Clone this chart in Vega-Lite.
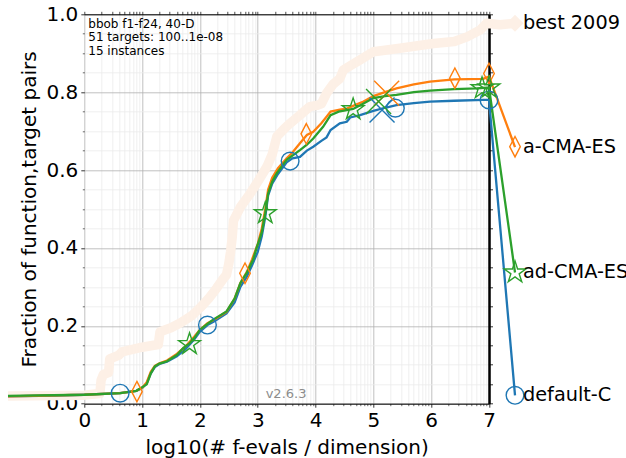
{
  "$schema": "https://vega.github.io/schema/vega-lite/v6.json",
  "width": 404.7,
  "height": 389.4,
  "autosize": {"type": "none"},
  "padding": {"left": 84.3, "top": 14.3, "right": 137, "bottom": 54.3},
  "background": "white",
  "config": {"view": {"stroke": null}, "font": "DejaVu Sans"},
  "datasets": {
    "lines": [
      {"alg":"best 2009","x":-1.32,"y":0.02},{"alg":"best 2009","x":0.0,"y":0.022},{"alg":"best 2009","x":0.27,"y":0.026},{"alg":"best 2009","x":0.29,"y":0.06},{"alg":"best 2009","x":0.33,"y":0.075},{"alg":"best 2009","x":0.42,"y":0.08},{"alg":"best 2009","x":0.44,"y":0.115},{"alg":"best 2009","x":0.6,"y":0.125},{"alg":"best 2009","x":0.65,"y":0.133},{"alg":"best 2009","x":1.0,"y":0.145},{"alg":"best 2009","x":1.28,"y":0.152},{"alg":"best 2009","x":1.31,"y":0.185},{"alg":"best 2009","x":1.5,"y":0.195},{"alg":"best 2009","x":1.66,"y":0.207},{"alg":"best 2009","x":1.85,"y":0.225},{"alg":"best 2009","x":2.0,"y":0.246},{"alg":"best 2009","x":2.15,"y":0.27},{"alg":"best 2009","x":2.29,"y":0.297},{"alg":"best 2009","x":2.4,"y":0.32},{"alg":"best 2009","x":2.46,"y":0.331},{"alg":"best 2009","x":2.5,"y":0.36},{"alg":"best 2009","x":2.53,"y":0.39},{"alg":"best 2009","x":2.56,"y":0.43},{"alg":"best 2009","x":2.58,"y":0.47},{"alg":"best 2009","x":2.7,"y":0.505},{"alg":"best 2009","x":2.87,"y":0.54},{"alg":"best 2009","x":3.0,"y":0.57},{"alg":"best 2009","x":3.16,"y":0.609},{"alg":"best 2009","x":3.25,"y":0.64},{"alg":"best 2009","x":3.33,"y":0.686},{"alg":"best 2009","x":3.45,"y":0.705},{"alg":"best 2009","x":3.56,"y":0.72},{"alg":"best 2009","x":3.73,"y":0.741},{"alg":"best 2009","x":3.9,"y":0.763},{"alg":"best 2009","x":4.02,"y":0.766},{"alg":"best 2009","x":4.1,"y":0.77},{"alg":"best 2009","x":4.19,"y":0.797},{"alg":"best 2009","x":4.3,"y":0.82},{"alg":"best 2009","x":4.42,"y":0.835},{"alg":"best 2009","x":4.48,"y":0.857},{"alg":"best 2009","x":4.6,"y":0.868},{"alg":"best 2009","x":4.77,"y":0.883},{"alg":"best 2009","x":5.0,"y":0.904},{"alg":"best 2009","x":5.46,"y":0.913},{"alg":"best 2009","x":6.04,"y":0.925},{"alg":"best 2009","x":6.4,"y":0.93},{"alg":"best 2009","x":6.62,"y":0.942},{"alg":"best 2009","x":6.85,"y":0.96},{"alg":"best 2009","x":6.96,"y":0.977},{"alg":"best 2009","x":7.19,"y":0.973},{"alg":"best 2009","x":7.45,"y":0.977},

      {"alg":"default-C","x":-1.32,"y":0.019},{"alg":"default-C","x":-0.5,"y":0.021},{"alg":"default-C","x":0.0,"y":0.023},{"alg":"default-C","x":0.62,"y":0.027},{"alg":"default-C","x":0.9,"y":0.033},{"alg":"default-C","x":1.0,"y":0.04},{"alg":"default-C","x":1.08,"y":0.052},{"alg":"default-C","x":1.15,"y":0.078},{"alg":"default-C","x":1.22,"y":0.094},{"alg":"default-C","x":1.3,"y":0.102},{"alg":"default-C","x":1.43,"y":0.108},{"alg":"default-C","x":1.6,"y":0.122},{"alg":"default-C","x":1.75,"y":0.14},{"alg":"default-C","x":1.9,"y":0.165},{"alg":"default-C","x":2.0,"y":0.185},{"alg":"default-C","x":2.13,"y":0.202},{"alg":"default-C","x":2.25,"y":0.212},{"alg":"default-C","x":2.46,"y":0.232},{"alg":"default-C","x":2.6,"y":0.26},{"alg":"default-C","x":2.7,"y":0.3},{"alg":"default-C","x":2.81,"y":0.326},{"alg":"default-C","x":2.9,"y":0.355},{"alg":"default-C","x":3.0,"y":0.39},{"alg":"default-C","x":3.07,"y":0.43},{"alg":"default-C","x":3.13,"y":0.48},{"alg":"default-C","x":3.18,"y":0.535},{"alg":"default-C","x":3.25,"y":0.565},{"alg":"default-C","x":3.35,"y":0.59},{"alg":"default-C","x":3.5,"y":0.62},{"alg":"default-C","x":3.6,"y":0.63},{"alg":"default-C","x":3.73,"y":0.634},{"alg":"default-C","x":3.85,"y":0.65},{"alg":"default-C","x":3.96,"y":0.66},{"alg":"default-C","x":4.1,"y":0.675},{"alg":"default-C","x":4.19,"y":0.684},{"alg":"default-C","x":4.26,"y":0.703},{"alg":"default-C","x":4.42,"y":0.72},{"alg":"default-C","x":4.54,"y":0.724},{"alg":"default-C","x":4.6,"y":0.735},{"alg":"default-C","x":4.77,"y":0.741},{"alg":"default-C","x":5.0,"y":0.752},{"alg":"default-C","x":5.2,"y":0.76},{"alg":"default-C","x":5.4,"y":0.767},{"alg":"default-C","x":5.7,"y":0.772},{"alg":"default-C","x":5.98,"y":0.776},{"alg":"default-C","x":6.4,"y":0.778},{"alg":"default-C","x":6.9,"y":0.78},{"alg":"default-C","x":7.0,"y":0.78},{"alg":"default-C","x":7.45,"y":0.0216},

      {"alg":"a-CMA-ES","x":-1.32,"y":0.019},{"alg":"a-CMA-ES","x":0.0,"y":0.023},{"alg":"a-CMA-ES","x":0.62,"y":0.027},{"alg":"a-CMA-ES","x":0.9,"y":0.033},{"alg":"a-CMA-ES","x":1.0,"y":0.041},{"alg":"a-CMA-ES","x":1.08,"y":0.055},{"alg":"a-CMA-ES","x":1.15,"y":0.082},{"alg":"a-CMA-ES","x":1.22,"y":0.097},{"alg":"a-CMA-ES","x":1.3,"y":0.104},{"alg":"a-CMA-ES","x":1.43,"y":0.111},{"alg":"a-CMA-ES","x":1.6,"y":0.128},{"alg":"a-CMA-ES","x":1.75,"y":0.147},{"alg":"a-CMA-ES","x":1.9,"y":0.172},{"alg":"a-CMA-ES","x":2.0,"y":0.19},{"alg":"a-CMA-ES","x":2.13,"y":0.207},{"alg":"a-CMA-ES","x":2.25,"y":0.216},{"alg":"a-CMA-ES","x":2.46,"y":0.236},{"alg":"a-CMA-ES","x":2.6,"y":0.27},{"alg":"a-CMA-ES","x":2.7,"y":0.31},{"alg":"a-CMA-ES","x":2.81,"y":0.338},{"alg":"a-CMA-ES","x":2.9,"y":0.37},{"alg":"a-CMA-ES","x":3.0,"y":0.41},{"alg":"a-CMA-ES","x":3.07,"y":0.45},{"alg":"a-CMA-ES","x":3.13,"y":0.5},{"alg":"a-CMA-ES","x":3.18,"y":0.55},{"alg":"a-CMA-ES","x":3.25,"y":0.58},{"alg":"a-CMA-ES","x":3.35,"y":0.605},{"alg":"a-CMA-ES","x":3.5,"y":0.63},{"alg":"a-CMA-ES","x":3.6,"y":0.645},{"alg":"a-CMA-ES","x":3.73,"y":0.669},{"alg":"a-CMA-ES","x":3.85,"y":0.69},{"alg":"a-CMA-ES","x":3.96,"y":0.698},{"alg":"a-CMA-ES","x":4.1,"y":0.72},{"alg":"a-CMA-ES","x":4.19,"y":0.737},{"alg":"a-CMA-ES","x":4.26,"y":0.75},{"alg":"a-CMA-ES","x":4.42,"y":0.755},{"alg":"a-CMA-ES","x":4.54,"y":0.758},{"alg":"a-CMA-ES","x":4.7,"y":0.768},{"alg":"a-CMA-ES","x":4.83,"y":0.776},{"alg":"a-CMA-ES","x":5.0,"y":0.79},{"alg":"a-CMA-ES","x":5.2,"y":0.8},{"alg":"a-CMA-ES","x":5.4,"y":0.81},{"alg":"a-CMA-ES","x":5.7,"y":0.82},{"alg":"a-CMA-ES","x":5.98,"y":0.827},{"alg":"a-CMA-ES","x":6.4,"y":0.833},{"alg":"a-CMA-ES","x":6.9,"y":0.834},{"alg":"a-CMA-ES","x":7.0,"y":0.84},{"alg":"a-CMA-ES","x":7.45,"y":0.659},

      {"alg":"ad-CMA-ES","x":-1.32,"y":0.02},{"alg":"ad-CMA-ES","x":0.0,"y":0.023},{"alg":"ad-CMA-ES","x":0.62,"y":0.027},{"alg":"ad-CMA-ES","x":0.9,"y":0.033},{"alg":"ad-CMA-ES","x":1.0,"y":0.042},{"alg":"ad-CMA-ES","x":1.08,"y":0.05},{"alg":"ad-CMA-ES","x":1.15,"y":0.078},{"alg":"ad-CMA-ES","x":1.22,"y":0.096},{"alg":"ad-CMA-ES","x":1.3,"y":0.103},{"alg":"ad-CMA-ES","x":1.43,"y":0.109},{"alg":"ad-CMA-ES","x":1.6,"y":0.125},{"alg":"ad-CMA-ES","x":1.71,"y":0.143},{"alg":"ad-CMA-ES","x":1.82,"y":0.155},{"alg":"ad-CMA-ES","x":1.9,"y":0.168},{"alg":"ad-CMA-ES","x":2.0,"y":0.19},{"alg":"ad-CMA-ES","x":2.13,"y":0.205},{"alg":"ad-CMA-ES","x":2.23,"y":0.216},{"alg":"ad-CMA-ES","x":2.46,"y":0.237},{"alg":"ad-CMA-ES","x":2.6,"y":0.27},{"alg":"ad-CMA-ES","x":2.7,"y":0.31},{"alg":"ad-CMA-ES","x":2.81,"y":0.336},{"alg":"ad-CMA-ES","x":2.92,"y":0.37},{"alg":"ad-CMA-ES","x":2.98,"y":0.4},{"alg":"ad-CMA-ES","x":3.07,"y":0.44},{"alg":"ad-CMA-ES","x":3.13,"y":0.489},{"alg":"ad-CMA-ES","x":3.18,"y":0.54},{"alg":"ad-CMA-ES","x":3.25,"y":0.57},{"alg":"ad-CMA-ES","x":3.33,"y":0.592},{"alg":"ad-CMA-ES","x":3.5,"y":0.626},{"alg":"ad-CMA-ES","x":3.73,"y":0.651},{"alg":"ad-CMA-ES","x":3.85,"y":0.665},{"alg":"ad-CMA-ES","x":3.96,"y":0.681},{"alg":"ad-CMA-ES","x":4.13,"y":0.711},{"alg":"ad-CMA-ES","x":4.26,"y":0.741},{"alg":"ad-CMA-ES","x":4.4,"y":0.75},{"alg":"ad-CMA-ES","x":4.54,"y":0.754},{"alg":"ad-CMA-ES","x":4.65,"y":0.757},{"alg":"ad-CMA-ES","x":4.83,"y":0.771},{"alg":"ad-CMA-ES","x":5.0,"y":0.785},{"alg":"ad-CMA-ES","x":5.2,"y":0.79},{"alg":"ad-CMA-ES","x":5.4,"y":0.793},{"alg":"ad-CMA-ES","x":5.7,"y":0.8},{"alg":"ad-CMA-ES","x":5.98,"y":0.804},{"alg":"ad-CMA-ES","x":6.4,"y":0.808},{"alg":"ad-CMA-ES","x":6.79,"y":0.81},{"alg":"ad-CMA-ES","x":7.0,"y":0.812},{"alg":"ad-CMA-ES","x":7.45,"y":0.337}
    ],
    "markers": [
      {"alg":"default-C","mk":"o","x":0.62,"y":0.027},{"alg":"default-C","mk":"o","x":2.13,"y":0.202},{"alg":"default-C","mk":"o","x":3.56,"y":0.623},{"alg":"default-C","mk":"o","x":5.38,"y":0.759},{"alg":"default-C","mk":"o","x":7.0,"y":0.78},{"alg":"default-C","mk":"o","x":7.45,"y":0.0216},{"alg":"default-C","mk":"x","x":5.15,"y":0.754},
      {"alg":"a-CMA-ES","mk":"d","x":0.91,"y":0.031},{"alg":"a-CMA-ES","mk":"d","x":2.78,"y":0.335},{"alg":"a-CMA-ES","mk":"d","x":3.84,"y":0.693},{"alg":"a-CMA-ES","mk":"d","x":6.41,"y":0.836},{"alg":"a-CMA-ES","mk":"d","x":7.0,"y":0.848},{"alg":"a-CMA-ES","mk":"d","x":7.45,"y":0.66},{"alg":"a-CMA-ES","mk":"x","x":5.23,"y":0.797},
      {"alg":"ad-CMA-ES","mk":"s","x":1.82,"y":0.153},{"alg":"ad-CMA-ES","mk":"s","x":3.13,"y":0.489},{"alg":"ad-CMA-ES","mk":"s","x":4.65,"y":0.756},{"alg":"ad-CMA-ES","mk":"s","x":6.88,"y":0.81},{"alg":"ad-CMA-ES","mk":"s","x":7.0,"y":0.812},{"alg":"ad-CMA-ES","mk":"s","x":7.45,"y":0.337},{"alg":"ad-CMA-ES","mk":"x","x":5.09,"y":0.776}
    ],
    "labels": [
      {"label":"best 2009","x":7.45,"y":0.977},
      {"label":"a-CMA-ES","x":7.45,"y":0.66},
      {"label":"ad-CMA-ES","x":7.45,"y":0.337},
      {"label":"default-C","x":7.45,"y":0.0216}
    ],
    "one": [{"n": 1}]
  },
  "resolve": {"axis": {"x": "independent", "y": "independent"}},
  "layer": [
    {
      "data": {"name": "lines"},
      "transform": [{"filter": "datum.alg == 'best 2009'"}],
      "mark": {"type": "line", "color": "#fdf0e6", "strokeWidth": 9.5, "strokeJoin": "round"},
      "encoding": {
        "x": {"field": "x", "type": "quantitative", "scale": {"domain": [0, 7], "nice": false, "zero": false},
          "axis": {"orient": "bottom", "values": [0.301,0.477,0.602,0.699,0.778,0.845,0.903,0.954,1.301,1.477,1.602,1.699,1.778,1.845,1.903,1.954,2.301,2.477,2.602,2.699,2.778,2.845,2.903,2.954,3.301,3.477,3.602,3.699,3.778,3.845,3.903,3.954,4.301,4.477,4.602,4.699,4.778,4.845,4.903,4.954,5.301,5.477,5.602,5.699,5.778,5.845,5.903,5.954,6.301,6.477,6.602,6.699,6.778,6.845,6.903,6.954],
            "grid": true, "gridColor": "#ebebeb", "gridWidth": 0.8, "labels": false, "ticks": true, "tickSize": 2, "tickColor": "black", "tickWidth": 0.6, "domain": false, "title": null}},
        "y": {"field": "y", "type": "quantitative", "scale": {"domain": [0, 1], "nice": false, "zero": false},
          "axis": {"orient": "left", "values": [0.05,0.1,0.15,0.25,0.3,0.35,0.45,0.5,0.55,0.65,0.7,0.75,0.85,0.9,0.95],
            "grid": true, "gridColor": "#ebebeb", "gridWidth": 0.8, "labels": false, "ticks": true, "tickSize": 2, "tickColor": "black", "tickWidth": 0.6, "domain": false, "title": null}}
      }
    },
    {
      "data": {"name": "lines"},
      "transform": [{"filter": "datum.alg == 'default-C'"}],
      "mark": {"type": "line", "color": "#1f77b4", "strokeWidth": 2.3},
      "encoding": {
        "x": {"field": "x", "type": "quantitative", "scale": {"domain": [0, 7], "nice": false, "zero": false},
          "axis": {"orient": "bottom", "values": [0,1,2,3,4,5,6,7], "format": "d", "grid": true, "gridColor": "#b0b0b0", "gridWidth": 0.8,
            "labels": true, "labelFontSize": 20, "labelFont": "DejaVu Sans", "labelColor": "black", "labelPadding": 3, "labelFlush": false, "labelOverlap": false,
            "ticks": true, "tickSize": 3.5, "tickColor": "black", "tickWidth": 0.8, "domain": true, "domainColor": "black", "domainWidth": 1,
            "title": "log10(# f-evals / dimension)", "titleFontSize": 20, "titleFont": "DejaVu Sans", "titleFontWeight": "normal", "titleColor": "black", "titlePadding": 7}},
        "y": {"field": "y", "type": "quantitative", "scale": {"domain": [0, 1], "nice": false, "zero": false},
          "axis": {"orient": "left", "values": [0,0.2,0.4,0.6,0.8,1.0], "format": ".1f", "grid": true, "gridColor": "#b0b0b0", "gridWidth": 0.8,
            "labels": true, "labelFontSize": 20, "labelFont": "DejaVu Sans", "labelColor": "black", "labelPadding": 3, "labelFlush": false, "labelOverlap": false,
            "ticks": true, "tickSize": 3.5, "tickColor": "black", "tickWidth": 0.8, "domain": false,
            "title": "Fraction of function,target pairs", "titleFontSize": 20, "titleFont": "DejaVu Sans", "titleFontWeight": "normal", "titleColor": "black", "titlePadding": 6}}
      }
    },
    {
      "data": {"name": "lines"},
      "transform": [{"filter": "datum.alg == 'a-CMA-ES'"}],
      "mark": {"type": "line", "color": "#ff7f0e", "strokeWidth": 2.3},
      "encoding": {
        "x": {"field": "x", "type": "quantitative", "scale": {"domain": [0, 7], "nice": false, "zero": false},
          "axis": {"orient": "top", "values": [0,0.301,0.477,0.602,0.699,0.778,0.845,0.903,0.954,1,1.301,1.477,1.602,1.699,1.778,1.845,1.903,1.954,2,2.301,2.477,2.602,2.699,2.778,2.845,2.903,2.954,3,3.301,3.477,3.602,3.699,3.778,3.845,3.903,3.954,4,4.301,4.477,4.602,4.699,4.778,4.845,4.903,4.954,5,5.301,5.477,5.602,5.699,5.778,5.845,5.903,5.954,6,6.301,6.477,6.602,6.699,6.778,6.845,6.903,6.954,7],
            "grid": false, "labels": false, "ticks": true, "tickSize": 3, "tickColor": "black", "tickWidth": 0.7, "domain": true, "domainColor": "black", "domainWidth": 1, "title": null}},
        "y": {"field": "y", "type": "quantitative", "scale": {"domain": [0, 1], "nice": false, "zero": false},
          "axis": {"orient": "right", "values": [0,0.05,0.1,0.15,0.2,0.25,0.3,0.35,0.4,0.45,0.5,0.55,0.6,0.65,0.7,0.75,0.8,0.85,0.9,0.95,1.0],
            "grid": false, "labels": false, "ticks": true, "tickSize": 3.5, "tickColor": "black", "tickWidth": 0.8, "domain": true, "domainColor": "black", "domainWidth": 2.5, "title": null}}
      }
    },
    {
      "data": {"name": "lines"},
      "transform": [{"filter": "datum.alg == 'ad-CMA-ES'"}],
      "mark": {"type": "line", "color": "#2ca02c", "strokeWidth": 2.3},
      "encoding": {
        "x": {"field": "x", "type": "quantitative", "scale": {"domain": [0, 7], "nice": false, "zero": false}, "axis": null},
        "y": {"field": "y", "type": "quantitative", "scale": {"domain": [0, 1], "nice": false, "zero": false}, "axis": null}
      }
    },
    {
      "data": {"name": "markers"},
      "mark": {"type": "point", "filled": false, "strokeWidth": 1.4, "opacity": 1},
      "encoding": {
        "x": {"field": "x", "type": "quantitative", "scale": {"domain": [0, 7], "nice": false, "zero": false}, "axis": null},
        "y": {"field": "y", "type": "quantitative", "scale": {"domain": [0, 1], "nice": false, "zero": false}, "axis": null},
        "color": {"field": "alg", "type": "nominal", "scale": {"domain": ["default-C", "a-CMA-ES", "ad-CMA-ES"], "range": ["#1f77b4", "#ff7f0e", "#2ca02c"]}, "legend": null},
        "shape": {"field": "mk", "type": "nominal", "scale": {"domain": ["o", "d", "s", "x"], "range": ["circle", "M0,-1L0.52,0L0,1L-0.52,0Z", "M0,-1L0.225,-0.309L0.951,-0.309L0.363,0.118L0.588,0.809L0,0.382L-0.588,0.809L-0.363,0.118L-0.951,-0.309L-0.225,-0.309Z", "M-1,-1L1,1M-1,1L1,-1"]}, "legend": null},
        "size": {"field": "mk", "type": "nominal", "scale": {"domain": ["o", "d", "s", "x"], "range": [313, 625, 484, 729]}, "legend": null}
      }
    },
    {
      "data": {"name": "labels"},
      "transform": [{"filter": "datum.label == 'best 2009'"}],
      "mark": {"type": "point", "shape": "diamond", "filled": true, "color": "#fdf0e6", "size": 289, "opacity": 1},
      "encoding": {
        "x": {"field": "x", "type": "quantitative", "scale": {"domain": [0, 7], "nice": false, "zero": false}, "axis": null},
        "y": {"field": "y", "type": "quantitative", "scale": {"domain": [0, 1], "nice": false, "zero": false}, "axis": null}
      }
    },
    {
      "data": {"name": "labels"},
      "mark": {"type": "text", "align": "left", "baseline": "middle", "dx": 8, "fontSize": 19.3, "font": "DejaVu Sans", "color": "black"},
      "encoding": {
        "x": {"field": "x", "type": "quantitative", "scale": {"domain": [0, 7], "nice": false, "zero": false}, "axis": null},
        "y": {"field": "y", "type": "quantitative", "scale": {"domain": [0, 1], "nice": false, "zero": false}, "axis": null},
        "text": {"field": "label"}
      }
    },
    {
      "data": {"name": "one"},
      "mark": {"type": "text", "align": "left", "baseline": "alphabetic", "fontSize": 12, "lineHeight": 13.5, "font": "DejaVu Sans", "color": "black"},
      "encoding": {
        "x": {"datum": 0.069, "type": "quantitative", "scale": {"domain": [0, 7], "nice": false, "zero": false}, "axis": null},
        "y": {"datum": 0.966, "type": "quantitative", "scale": {"domain": [0, 1], "nice": false, "zero": false}, "axis": null},
        "text": {"value": ["bbob f1-f24, 40-D", "51 targets: 100..1e-08", "15 instances"]}
      }
    },
    {
      "data": {"name": "one"},
      "mark": {"type": "text", "align": "center", "baseline": "alphabetic", "fontSize": 13, "font": "DejaVu Sans", "color": "#8c8c8c"},
      "encoding": {
        "x": {"datum": 3.49, "type": "quantitative", "scale": {"domain": [0, 7], "nice": false, "zero": false}, "axis": null},
        "y": {"datum": 0.0139, "type": "quantitative", "scale": {"domain": [0, 1], "nice": false, "zero": false}, "axis": null},
        "text": {"value": "v2.6.3"}
      }
    }
  ]
}
